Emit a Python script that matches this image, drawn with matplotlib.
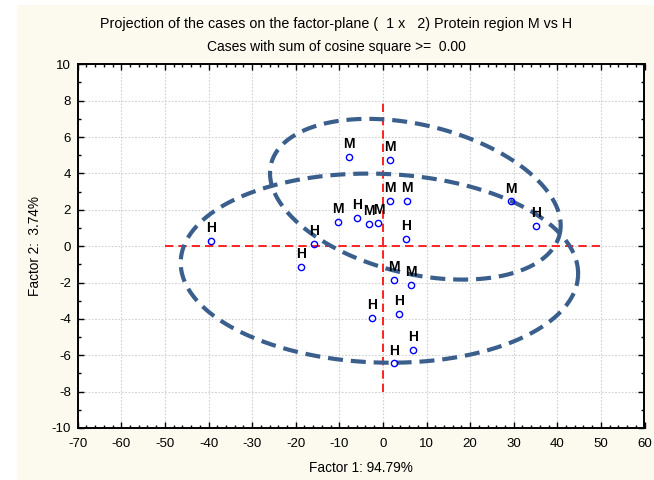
import numpy as np
import matplotlib
matplotlib.use("Agg")
import matplotlib.pyplot as plt
from matplotlib.patches import Rectangle
from matplotlib.ticker import MultipleLocator

plt.rcParams['font.family'] = ['Liberation Sans', 'DejaVu Sans']
plt.rcParams['axes.unicode_minus'] = False

# case coordinates on factor plane (factor 1, factor 2)
labels = ["H", "H", "H", "M", "H", "M", "M", "M", "M", "M",
          "M", "H", "M", "H", "M", "M", "H", "H", "H", "H"]
f1 = [-39.4, -15.9, -18.7, -10.35, -5.9, -3.16, -1.03, -7.83, 1.56, 1.56,
      5.61, 5.31, 29.4, 35.1, 2.47, 6.53, -2.57, 3.78, 6.92, 2.57]
f2 = [0.28, 0.13, -1.14, 1.35, 1.57, 1.21, 1.28, 4.89, 4.75, 2.50,
      2.50, 0.38, 2.46, 1.11, -1.84, -2.11, -3.96, -3.72, -5.69, -6.45]

# hand drawn group ellipses: centre x, centre y, semi axis x, semi axis y, screen angle
ell_cx = [-0.8, 7.44]
ell_cy = [-1.21, 2.58]
ell_a = [45.6, 34.06]
ell_b = [5.19, 4.09]
ell_ang = [-2.0, -13.7]

title1 = "Projection of the cases on the factor-plane (  1 x   2) Protein region M vs H"
title2 = "Cases with sum of cosine square >=  0.00"

fig = plt.figure(figsize=(6.54, 4.8), dpi=100, facecolor="white")
fig.patches.append(Rectangle((17 / 654, 0), 1, 1 - 5 / 480, transform=fig.transFigure,
                             facecolor="#FCF9EE", edgecolor="none", zorder=-10))

ax = fig.add_axes([77.7 / 654, 52 / 480, 566.8 / 654, 363.7 / 480])
ax.set_facecolor("white")
ax.set_xlim(-70, 60)
ax.set_ylim(-10, 10)
ax.xaxis.set_major_locator(MultipleLocator(10))
ax.xaxis.set_minor_locator(MultipleLocator(2))
ax.yaxis.set_major_locator(MultipleLocator(2))
ax.yaxis.set_minor_locator(MultipleLocator(1))
ax.tick_params(which="both", direction="in", top=True, right=True, color="black", width=1)
ax.tick_params(which="major", length=4, labelsize=9.5)
ax.tick_params(which="minor", length=2.5)
ax.tick_params(axis="x", which="major", pad=7)
ax.tick_params(axis="y", which="major", pad=5)
for s in ax.spines.values():
    s.set_linewidth(1.4)
ax.grid(True, which="major", color="#D0D0D0", linestyle=(0, (1.5, 1.5)), linewidth=0.8)
ax.set_axisbelow(True)

# reference axes lines through origin
ax.plot([-50, 50], [0, 0], color="red", linestyle=(0, (5, 3)), linewidth=1.2, zorder=2)
ax.plot([0, 0], [-8, 8], color="red", linestyle=(0, (5, 3)), linewidth=1.2, zorder=2)

ax.plot(f1, f2, linestyle="none", marker="o", markersize=4.5, markerfacecolor="none",
        markeredgecolor="#0000FF", markeredgewidth=1, zorder=4)
for x, y, t in zip(f1, f2, labels):
    ax.annotate(t, (x, y), xytext=(0, 6.3), textcoords="offset points",
                ha="center", va="baseline", fontsize=10, fontweight="bold", zorder=5)

# ellipses built in screen proportions so the tilt looks right
(x0, y0), (x1, y1) = ax.transData.transform([(0, 0), (1, 1)])
kx, ky = x1 - x0, y1 - y0
t = np.linspace(0, 2 * np.pi, 500)
for cx, cy, a, b, ang in zip(ell_cx, ell_cy, ell_a, ell_b, ell_ang):
    th = np.deg2rad(ang)
    A, B = a * kx, b * ky
    dx = A * np.cos(t) * np.cos(th) - B * np.sin(t) * np.sin(th)
    dy = A * np.cos(t) * np.sin(th) + B * np.sin(t) * np.cos(th)
    ax.plot(cx + dx / kx, cy + dy / ky, color="#3A5F8C", linewidth=3.0,
            linestyle=(0, (3.6, 1.9)), zorder=3)

fig.text(336 / 654, 1 - 28 / 480, title1, ha="center", va="baseline", fontsize=10.3)
fig.text(336 / 654, 1 - 51 / 480, title2, ha="center", va="baseline", fontsize=10)
ax.set_xlabel("Factor 1: 94.79%", fontsize=9.8, labelpad=8)
ax.set_ylabel("Factor 2:  3.74%", fontsize=9.8, labelpad=7)

fig.savefig("out.png", dpi=100, facecolor=fig.get_facecolor())
